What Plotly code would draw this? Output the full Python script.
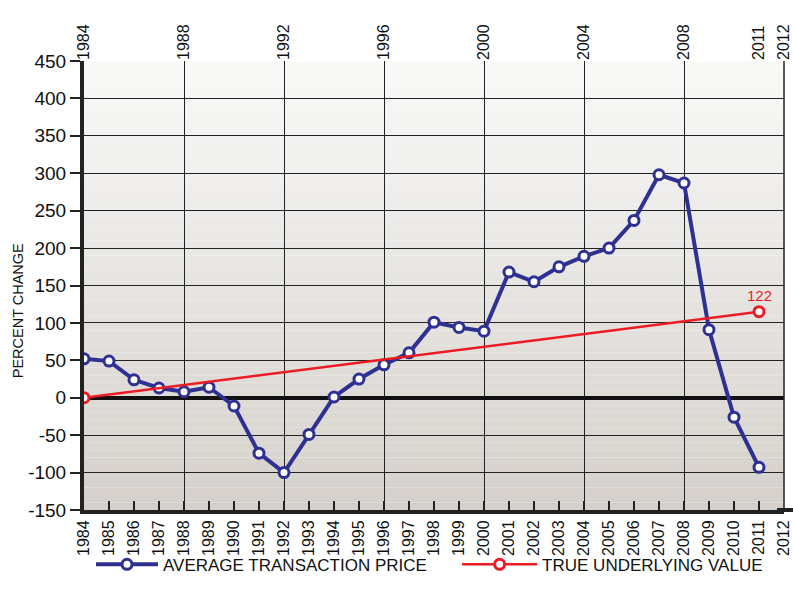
import plotly.graph_objects as go

years = list(range(1984, 2012))
avg_price = [52, 49, 24, 13, 8, 14, -11, -74, -100, -49, 1, 25, 44, 60, 101, 94, 89,
             168, 155, 175, 189, 200, 237, 298, 287, 91, -26, -93]
true_years = [1984, 2011]
true_value = [0, 115]
true_label = "122"
top_ticks = [1984, 1988, 1992, 1996, 2000, 2004, 2008, 2011, 2012]
bottom_ticks = list(range(1984, 2013))
grid_years = [1984, 1988, 1992, 1996, 2000, 2004, 2008, 2012]
y_ticks = list(range(-150, 451, 50))
y_title = "PERCENT CHANGE"

BLUE = "#2e3192"
RED = "#ed1c24"
FONT = "Liberation Sans, Arial, sans-serif"

fig = go.Figure()

fig.add_trace(go.Scatter(
    x=years, y=avg_price, mode="lines+markers", name="AVERAGE TRANSACTION PRICE",
    line=dict(color=BLUE, width=4),
    marker=dict(symbol="circle", size=10, color="white", line=dict(color=BLUE, width=3)),
    legend="legend",
))
fig.add_trace(go.Scatter(
    x=true_years, y=true_value, mode="lines+markers", name="TRUE UNDERLYING VALUE",
    line=dict(color=RED, width=2.5),
    marker=dict(symbol="circle", size=10, color="white", line=dict(color=RED, width=3)),
    legend="legend2",
))
# invisible traces to activate the extra x axes
fig.add_trace(go.Scatter(x=[1984, 2012], y=[0, 0], xaxis="x2", mode="markers",
                         marker=dict(opacity=0), showlegend=False, hoverinfo="skip"))
fig.add_trace(go.Scatter(x=[1984, 2012], y=[0, 0], xaxis="x3", mode="markers",
                         marker=dict(opacity=0), showlegend=False, hoverinfo="skip"))

# gradient background bands
n = 60
shapes = []
top = (249, 249, 248)
bot = (213, 208, 203)
for i in range(n):
    t = i / (n - 1)
    c = tuple(int(round(top[k] + (bot[k] - top[k]) * t)) for k in range(3))
    shapes.append(dict(type="rect", xref="x domain", yref="y domain",
                       x0=0, x1=1, y0=1 - (i + 1) / n, y1=1 - i / n,
                       fillcolor="rgb(%d,%d,%d)" % c, line=dict(width=0), layer="below"))
# right border
shapes.append(dict(type="line", xref="x domain", yref="y domain", x0=1, x1=1, y0=0, y1=1,
                   line=dict(color="#222", width=1.5)))
# bottom axis extension to the right edge
shapes.append(dict(type="line", xref="paper", yref="y domain", x0=0.99, x1=1.013, y0=0, y1=0,
                   line=dict(color="#222", width=4)))

yt_text = [str(v) for v in y_ticks]

fig.update_layout(
    width=793, height=602,
    margin=dict(l=84, r=9, t=61, b=92),
    paper_bgcolor="white", plot_bgcolor="rgba(0,0,0,0)",
    font=dict(family=FONT, color="#111", size=14),
    shapes=shapes,
    showlegend=True,
    legend=dict(orientation="h", x=0.01, xanchor="left", y=-0.122, yanchor="middle",
                font=dict(size=17, family=FONT), itemwidth=62, bgcolor="rgba(0,0,0,0)"),
    legend2=dict(orientation="h", x=0.533, xanchor="left", y=-0.122, yanchor="middle",
                 font=dict(size=17, family=FONT), itemwidth=75, bgcolor="rgba(0,0,0,0)"),
    xaxis=dict(range=[1984, 2012], tickvals=bottom_ticks, ticktext=[str(v) for v in bottom_ticks],
               tickangle=-90, ticks="inside", ticklen=9, tickwidth=1.5, tickcolor="#222",
               showgrid=False, showline=True, linecolor="#222", linewidth=4,
               tickfont=dict(size=16), zeroline=False, automargin=False),
    xaxis2=dict(range=[1984, 2012], overlaying="x", side="top", tickvals=top_ticks,
                ticktext=[str(v) for v in top_ticks], tickangle=-90, ticks="",
                showgrid=False, showline=False, tickfont=dict(size=16), zeroline=False,
                automargin=False),
    xaxis3=dict(range=[1984, 2012], overlaying="x", tickvals=grid_years, showticklabels=False,
                ticks="", showgrid=True, gridcolor="#222", gridwidth=1.2, zeroline=False,
                showline=False, automargin=False),
    yaxis=dict(range=[-150, 450], tickvals=y_ticks, ticktext=yt_text, ticks="outside", ticklen=10,
               tickcolor="#222", tickwidth=1.5,
               showgrid=True, gridcolor="#222", gridwidth=1.2,
               zeroline=True, zerolinecolor="#111", zerolinewidth=3.5,
               showline=True, linecolor="#222", linewidth=4,
               tickfont=dict(size=19), automargin=False),
    annotations=[
        dict(x=true_years[-1], y=true_value[-1], text=true_label, showarrow=False,
             yshift=16, font=dict(color=RED, size=15)),
        dict(x=-0.094, y=0.443, xref="paper", yref="paper", text=y_title, textangle=-90,
             showarrow=False, xanchor="center", yanchor="middle", font=dict(size=14.5)),
    ],
)

fig.write_html("out.html", config={"displayModeBar": False},
               post_script="document.body.style.margin='0';document.body.style.overflow='hidden';")
